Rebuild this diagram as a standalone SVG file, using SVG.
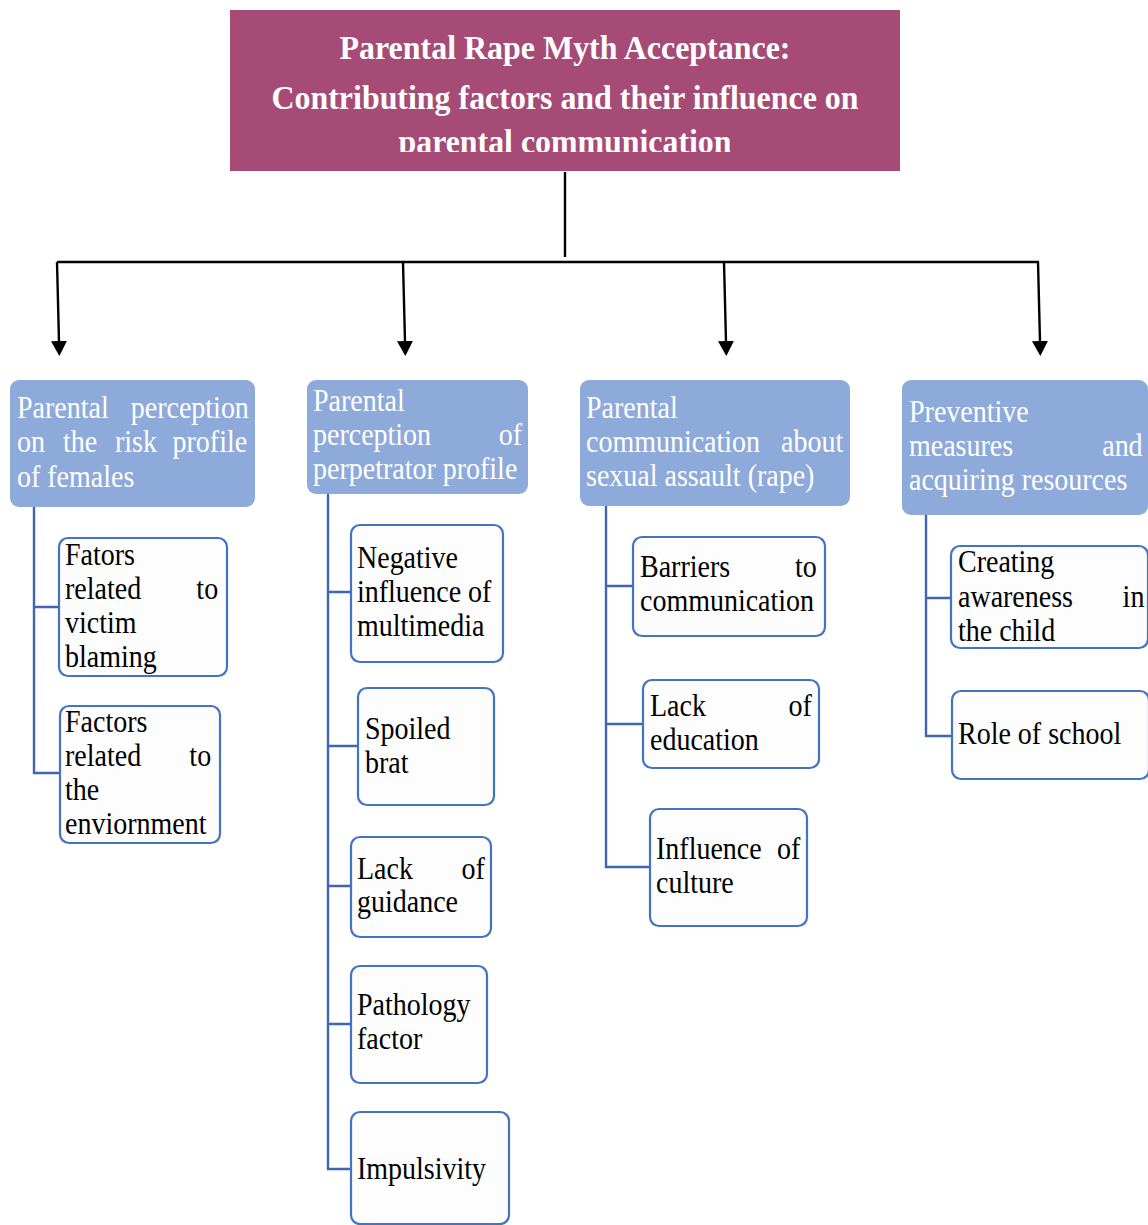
<svg xmlns="http://www.w3.org/2000/svg" width="1148" height="1225" viewBox="0 0 1148 1225">
<style>
.hdr{font-family:"Liberation Serif","Times New Roman",serif;font-weight:bold;font-size:34px;fill:#fff;text-anchor:middle}
.cat{fill:#8eaadb}
.ct{font-family:"Liberation Serif","Times New Roman",serif;font-size:32px;fill:#fff}
.box{fill:#fdfdfd;stroke:#4472c4;stroke-width:2.2}
.bt{font-family:"Liberation Serif","Times New Roman",serif;font-size:32px;fill:#000}
.e{text-anchor:end}
.blk{fill:none;stroke:#000;stroke-width:2.4}
.blu{fill:none;stroke:#3f66b5;stroke-width:2.4}
</style>
<defs>
<marker id="ah" viewBox="0 0 16 16" refX="1" refY="8" markerWidth="16" markerHeight="16" markerUnits="userSpaceOnUse" orient="auto">
<path d="M0,0 L15,8 L0,16 z" fill="#000"/>
</marker>
<clipPath id="hc"><rect x="230" y="10" width="670" height="142"/></clipPath>
</defs>

<g id="header">
<rect x="230" y="10" width="670" height="161" fill="#a54b76"/>
<g clip-path="url(#hc)">
<text class="hdr" x="565" y="59" textLength="451" lengthAdjust="spacingAndGlyphs">Parental Rape Myth Acceptance:</text>
<text class="hdr" x="565" y="109" textLength="587" lengthAdjust="spacingAndGlyphs">Contributing factors and their influence on</text>
<text class="hdr" x="565" y="153" textLength="333" lengthAdjust="spacingAndGlyphs">parental communication</text>
</g>
</g>

<g id="connectors">
<path class="blk" d="M565 172 V257"/>
<path class="blk" d="M57 262 H1039"/>
<path class="blk" d="M57 262 L59 342" marker-end="url(#ah)"/>
<path class="blk" d="M403 262 L405 342" marker-end="url(#ah)"/>
<path class="blk" d="M724 262 L726 342" marker-end="url(#ah)"/>
<path class="blk" d="M1038 262 L1040 342" marker-end="url(#ah)"/>
<path class="blu" d="M34 507 V773 H60 M34 607 H59"/>
<path class="blu" d="M328 494 V1169 H351 M328 592 H351 M328 746 H358 M328 886 H351 M328 1024 H351"/>
<path class="blu" d="M606 506 V867 H650 M606 586 H633 M606 724 H643"/>
<path class="blu" d="M926 515 V736 H952 M926 598 H951"/>
</g>

<g id="cat1">
<rect class="cat" x="10" y="380" width="245" height="127" rx="9"/>
<g class="ct" transform="translate(17 0) scale(0.875 1)">
<text x="0" y="418">Parental</text><text class="e" x="265" y="418">perception</text>
<text x="0" y="452">on</text><text x="52.6" y="452">the</text><text x="112" y="452">risk</text><text class="e" x="263" y="452">profile</text>
<text x="0" y="487">of females</text>
</g>
</g>

<g id="cat2">
<rect class="cat" x="307" y="380" width="221" height="114" rx="9"/>
<g class="ct" transform="translate(313 0) scale(0.875 1)">
<text x="0" y="411">Parental</text>
<text x="0" y="445">perception</text><text class="e" x="239" y="445">of</text>
<text x="0" y="479">perpetrator profile</text>
</g>
</g>

<g id="cat3">
<rect class="cat" x="580" y="380" width="270" height="126" rx="9"/>
<g class="ct" transform="translate(586 0) scale(0.875 1)">
<text x="0" y="418">Parental</text>
<text x="0" y="452">communication</text><text class="e" x="294" y="452">about</text>
<text x="0" y="486">sexual assault (rape)</text>
</g>
</g>

<g id="cat4">
<rect class="cat" x="902" y="380" width="246" height="135" rx="9"/>
<g class="ct" transform="translate(909 0) scale(0.875 1)">
<text x="0" y="422">Preventive</text>
<text x="0" y="456">measures</text><text class="e" x="267" y="456">and</text>
<text x="0" y="490">acquiring resources</text>
</g>
</g>

<g id="victim-blaming">
<rect class="box" x="59" y="538" width="168" height="138" rx="9"/>
<g class="bt" transform="translate(65 0) scale(0.875 1)">
<text x="0" y="565">Fators</text>
<text x="0" y="599">related</text><text class="e" x="175" y="599">to</text>
<text x="0" y="633">victim</text>
<text x="0" y="667">blaming</text>
</g>
</g>

<g id="environment">
<rect class="box" x="60" y="706" width="160" height="137" rx="9"/>
<g class="bt" transform="translate(65 0) scale(0.875 1)">
<text x="0" y="732">Factors</text>
<text x="0" y="766">related</text><text class="e" x="167" y="766">to</text>
<text x="0" y="800">the</text>
<text x="0" y="834">enviornment</text>
</g>
</g>

<g id="multimedia">
<rect class="box" x="351" y="525" width="152" height="137" rx="9"/>
<g class="bt" transform="translate(357 0) scale(0.875 1)">
<text x="0" y="568">Negative</text>
<text x="0" y="602">influence of</text>
<text x="0" y="636">multimedia</text>
</g>
</g>

<g id="spoiled-brat">
<rect class="box" x="358" y="688" width="136" height="117" rx="9"/>
<g class="bt" transform="translate(365 0) scale(0.875 1)">
<text x="0" y="739">Spoiled</text>
<text x="0" y="773">brat</text>
</g>
</g>

<g id="lack-guidance">
<rect class="box" x="351" y="837" width="140" height="100" rx="9"/>
<g class="bt" transform="translate(357 0) scale(0.875 1)">
<text x="0" y="879">Lack</text><text class="e" x="146" y="879">of</text>
<text x="0" y="912">guidance</text>
</g>
</g>

<g id="pathology">
<rect class="box" x="351" y="966" width="136" height="117" rx="9"/>
<g class="bt" transform="translate(357 0) scale(0.875 1)">
<text x="0" y="1015">Pathology</text>
<text x="0" y="1049">factor</text>
</g>
</g>

<g id="impulsivity">
<rect class="box" x="351" y="1112" width="158" height="112" rx="9"/>
<g class="bt" transform="translate(357 0) scale(0.875 1)">
<text x="0" y="1179">Impulsivity</text>
</g>
</g>

<g id="barriers">
<rect class="box" x="633" y="537" width="192" height="99" rx="9"/>
<g class="bt" transform="translate(640 0) scale(0.875 1)">
<text x="0" y="577">Barriers</text><text class="e" x="202" y="577">to</text>
<text x="0" y="611">communication</text>
</g>
</g>

<g id="lack-education">
<rect class="box" x="643" y="680" width="176" height="88" rx="9"/>
<g class="bt" transform="translate(650 0) scale(0.875 1)">
<text x="0" y="716">Lack</text><text class="e" x="185" y="716">of</text>
<text x="0" y="750">education</text>
</g>
</g>

<g id="culture">
<rect class="box" x="650" y="809" width="157" height="117" rx="9"/>
<g class="bt" transform="translate(656 0) scale(0.875 1)">
<text x="0" y="859">Influence</text><text class="e" x="165" y="859">of</text>
<text x="0" y="893">culture</text>
</g>
</g>

<g id="awareness">
<rect class="box" x="951" y="546" width="197" height="102" rx="9"/>
<g class="bt" transform="translate(958 0) scale(0.875 1)">
<text x="0" y="572">Creating</text>
<text x="0" y="607">awareness</text><text class="e" x="213" y="607">in</text>
<text x="0" y="641">the child</text>
</g>
</g>

<g id="school">
<rect class="box" x="952" y="691" width="197" height="88" rx="9"/>
<g class="bt" transform="translate(958 0) scale(0.875 1)">
<text x="0" y="744">Role of school</text>
</g>
</g>
</svg>
